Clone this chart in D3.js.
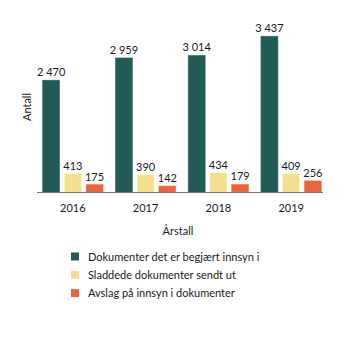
<!DOCTYPE html>
<html><head><meta charset="utf-8">
<script src="https://cdn.jsdelivr.net/npm/d3@7"></script>
<style>body{margin:0;background:#fff}svg{display:block}text{font-family:Lato,"Open Sans",sans-serif;fill:#1a1a1a}</style>
</head><body><svg id="c" width="345" height="341"></svg>
<script>
const years = ["2016","2017","2018","2019"];
const seriesNames = ["Dokumenter det er begjært innsyn i","Sladdede dokumenter sendt ut","Avslag på innsyn i dokumenter"];
const requested = [2470, 2959, 3014, 3437];
const redacted = [413, 390, 434, 409];
const rejected = [175, 142, 179, 256];
const colors = ["#225a56", "#f3df8f", "#e8653d"];
const series = [requested, redacted, rejected];

const svg = d3.select("#c");
const base = 192.5, left = 37, right = 323;
const fs = 11;
const x0 = d3.scaleBand().domain(years).range([left + 2, right + 2]).paddingInner(0.17).paddingOuter(0.05);
const x1 = d3.scaleBand().domain(d3.range(3)).range([0, x0.bandwidth()]).paddingInner(0.22);
const y = d3.scaleLinear().domain([0, 4000]).range([base, base - 4000 * 0.04547]);
const fmt = v => d3.format(",")(v).replace(/,/g, " ");

const g = svg.append("g");
years.forEach((yr, i) => {
  series.forEach((s, k) => {
    const xx = x0(yr) + x1(k);
    g.append("rect").attr("x", xx).attr("y", y(s[i])).attr("width", x1.bandwidth())
      .attr("height", base - y(s[i])).attr("fill", colors[k])
      .attr("stroke", d3.color(colors[k]).brighter(0.6)).attr("stroke-width", 0.6);
    g.append("text").attr("x", xx + x1.bandwidth() / 2).attr("y", y(s[i]) - 4)
      .attr("text-anchor", "middle").attr("font-size", fs).text(fmt(s[i]));
  });
});
svg.append("line").attr("x1", left).attr("x2", right).attr("y1", base).attr("y2", base)
  .attr("stroke", "#777").attr("stroke-width", 1);
const ax = svg.append("g").attr("transform", `translate(0,${base})`)
  .call(d3.axisBottom(x0).tickSize(0).tickPadding(12));
ax.select(".domain").remove();
ax.selectAll("text").attr("font-size", fs).attr("font-family", "Lato").attr("fill", "#1a1a1a");
svg.append("text").attr("x", 178).attr("y", 234.5).attr("text-anchor", "middle").attr("font-size", fs).text("Årstall");
svg.append("text").attr("transform", "translate(31,107) rotate(-90)").attr("text-anchor", "middle").attr("font-size", fs).text("Antall");

const leg = svg.append("g");
seriesNames.forEach((n, k) => {
  const cy = 256.5 + k * 18.3;
  leg.append("rect").attr("x", 71).attr("y", cy - 4).attr("width", 8).attr("height", 8).attr("fill", colors[k]);
  leg.append("text").attr("x", 88).attr("y", cy + 4).attr("font-size", fs).text(n);
});
</script></body></html>
